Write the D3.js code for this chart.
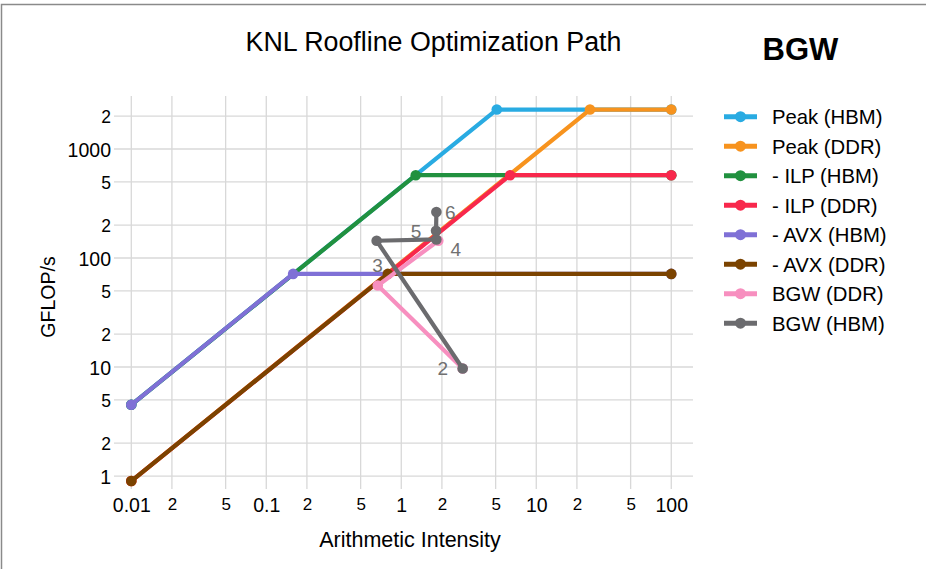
<!DOCTYPE html>
<html>
<head>
<meta charset="utf-8">
<script src="https://cdn.jsdelivr.net/npm/d3@7"></script>
<style>
  html, body { margin: 0; padding: 0; background: #fff; }
  svg { display: block; font-family: "Liberation Sans", Arial, Helvetica, sans-serif; }
</style>
</head>
<body>
<svg id="chart" width="926" height="569"></svg>
<script>
// ---------------- data ----------------
const seriesNames = ["Peak (HBM)", "Peak (DDR)", "- ILP (HBM)", "- ILP (DDR)",
                     "- AVX (HBM)", "- AVX (DDR)", "BGW (DDR)", "BGW (HBM)"];

const peakHBM_x = [0.01, 5.1, 100];
const peakHBM_y = [4.5, 2300, 2300];
const peakDDR_x = [0.01, 25, 100];
const peakDDR_y = [0.9, 2300, 2300];
const ilpHBM_x  = [0.01, 1.28, 100];
const ilpHBM_y  = [4.5, 575, 575];
const ilpDDR_x  = [0.01, 6.4, 100];
const ilpDDR_y  = [0.9, 575, 575];
const avxHBM_x  = [0.01, 0.158, 100];
const avxHBM_y  = [4.5, 71.5, 71.5];
const avxDDR_x  = [0.01, 0.795, 100];
const avxDDR_y  = [0.9, 71.5, 71.5];
const bgwDDR_x  = [2.85, 0.67, 1.88];
const bgwDDR_y  = [9.7, 56, 144];
const bgwHBM_x  = [2.85, 0.657, 1.82, 1.81, 1.82];
const bgwHBM_y  = [9.7, 144, 148, 178, 264];
const bgwHBM_labels = ["2", "3", "4", "5", "6"];

const xTickValues = [0.01, 0.02, 0.05, 0.1, 0.2, 0.5, 1, 2, 5, 10, 20, 50, 100];
const xTickLabels = ["0.01", "2", "5", "0.1", "2", "5", "1", "2", "5", "10", "2", "5", "100"];
const yTickValues = [1, 2, 5, 10, 20, 50, 100, 200, 500, 1000, 2000];
const yTickLabels = ["1", "2", "5", "10", "2", "5", "100", "2", "5", "1000", "2"];

const titleText = "KNL Roofline Optimization Path";
const annotationText = "BGW";
const xTitle = "Arithmetic Intensity";
const yTitle = "GFLOP/s";

// ---------------- style ----------------
const colors = ["#29abe2", "#f7931e", "#21913f", "#f8284c", "#7f70d6", "#7b4300", "#f78fbf", "#6b6b6e"];
// text position of point labels (style only)
const labelPos = ["left", "bottom", "bottomright", "left", "right"];

const series = [
  [peakHBM_x, peakHBM_y], [peakDDR_x, peakDDR_y], [ilpHBM_x, ilpHBM_y], [ilpDDR_x, ilpDDR_y],
  [avxHBM_x, avxHBM_y], [avxDDR_x, avxDDR_y], [bgwDDR_x, bgwDDR_y], [bgwHBM_x, bgwHBM_y]
].map((s, i) => ({ name: seriesNames[i], color: colors[i],
  pts: s[0].map((x, j) => ({ x: x, y: s[1][j] })) }));

const plot = { left: 114, right: 693, top: 96, bottom: 489 };

const x = d3.scaleLog().domain([Math.pow(10, -2.128), Math.pow(10, 2.161)]).range([plot.left, plot.right]);
const y = d3.scaleLog().domain([Math.pow(10, -0.119), Math.pow(10, 3.486)]).range([plot.bottom, plot.top]);

const svg = d3.select("#chart");

// outer border (top and left)
svg.append("path")
  .attr("d", "M1.5,569 L1.5,4.5 L926,4.5")
  .attr("fill", "none").attr("stroke", "#8a8a8a").attr("stroke-width", 1.5);

// grid
const grid = svg.append("g");
grid.selectAll("line.vx").data(xTickValues).join("line")
  .attr("x1", d => x(d)).attr("x2", d => x(d))
  .attr("y1", plot.top).attr("y2", plot.bottom)
  .attr("stroke", "#d8d8d8").attr("stroke-width", 1.3);
grid.selectAll("line.hy").data(yTickValues).join("line")
  .attr("x1", plot.left).attr("x2", plot.right)
  .attr("y1", d => y(d)).attr("y2", d => y(d))
  .attr("stroke", "#d8d8d8").attr("stroke-width", 1.3);

// axes (labels only, through d3 axes)
const isMajor = v => Math.abs(Math.log10(v) - Math.round(Math.log10(v))) < 1e-9;

const xAxis = d3.axisBottom(x).tickValues(xTickValues)
  .tickFormat((d, i) => xTickLabels[i]).tickSize(0).tickPadding(0);
const gx = svg.append("g").attr("transform", `translate(0,${plot.bottom})`).call(xAxis);
gx.select(".domain").remove();
gx.selectAll(".tick text")
  .attr("fill", "#000")
  .attr("font-family", "Liberation Sans, Arial, sans-serif")
  .attr("dy", null)
  .attr("y", d => isMajor(d) ? 22.5 : 21)
  .style("font-size", d => isMajor(d) ? "19.5px" : "17px");

const yAxis = d3.axisLeft(y).tickValues(yTickValues)
  .tickFormat((d, i) => yTickLabels[i]).tickSize(0).tickPadding(0);
const gy = svg.append("g").attr("transform", `translate(${plot.left - 3},0)`).call(yAxis);
gy.select(".domain").remove();
gy.selectAll(".tick text")
  .attr("fill", "#000")
  .attr("font-family", "Liberation Sans, Arial, sans-serif")
  .attr("dy", "0.36em")
  .style("font-size", d => isMajor(d) ? "19.5px" : "17.5px");

// series
const line = d3.line().x(d => x(d.x)).y(d => y(d.y));
const gs = svg.append("g");
series.forEach(s => {
  const g = gs.append("g");
  g.append("path").datum(s.pts).attr("d", line)
    .attr("fill", "none").attr("stroke", s.color).attr("stroke-width", 4.2)
    .attr("stroke-linejoin", "round");
  g.selectAll("circle").data(s.pts).join("circle")
    .attr("cx", d => x(d.x)).attr("cy", d => y(d.y)).attr("r", 5.3)
    .attr("fill", s.color);
});

// point labels for BGW (HBM)
const off = {
  left: [-20, 0, "middle"], right: [14, 0, "middle"], bottom: [1, 24, "middle"],
  bottomright: [19.5, 9.5, "middle"]
};
svg.append("g").selectAll("text").data(bgwHBM_x.map((v, i) => ({ x: v, y: bgwHBM_y[i], t: bgwHBM_labels[i], p: labelPos[i] })))
  .join("text")
  .attr("x", d => x(d.x) + off[d.p][0])
  .attr("y", d => y(d.y) + off[d.p][1])
  .attr("dy", "0.36em")
  .attr("text-anchor", d => off[d.p][2])
  .attr("fill", "#707070")
  .style("font-size", "19px")
  .text(d => d.t);

// title and annotation
svg.append("text").attr("x", 433.5).attr("y", 50.5).attr("text-anchor", "middle")
  .style("font-size", "26.8px").attr("fill", "#000").text(titleText);
svg.append("text").attr("x", 800.5).attr("y", 60).attr("text-anchor", "middle")
  .style("font-size", "31px").style("font-weight", "bold").attr("fill", "#000").text(annotationText);

// axis titles
svg.append("text").attr("x", 410).attr("y", 547).attr("text-anchor", "middle")
  .style("font-size", "21.5px").attr("fill", "#000").text(xTitle);
svg.append("text").attr("transform", "translate(55,297) rotate(-90)").attr("text-anchor", "middle")
  .style("font-size", "19.5px").attr("fill", "#000").text(yTitle);

// legend
const lg = svg.append("g");
series.forEach((s, i) => {
  const cy = 116.7 + i * 29.5;
  lg.append("line").attr("x1", 724).attr("x2", 757).attr("y1", cy).attr("y2", cy)
    .attr("stroke", s.color).attr("stroke-width", 5);
  lg.append("circle").attr("cx", 740.5).attr("cy", cy).attr("r", 5.5).attr("fill", s.color);
  lg.append("text").attr("x", 772).attr("y", cy).attr("dy", "0.36em")
    .style("font-size", "20.3px").attr("fill", "#000").text(s.name);
});
</script>
</body>
</html>
